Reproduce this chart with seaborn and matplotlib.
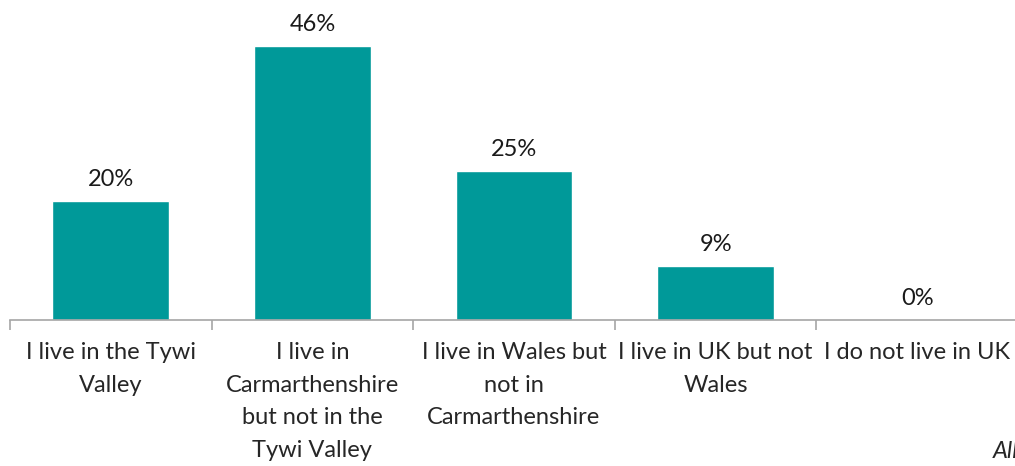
import matplotlib
matplotlib.use("Agg")
import matplotlib.pyplot as plt
import seaborn as sns
import pandas as pd
import numpy as np

categories = [
    "I live in the Tywi\nValley",
    "I live in\nCarmarthenshire\nbut not in the\nTywi Valley",
    "I live in Wales but\nnot in\nCarmarthenshire",
    "I live in UK but not\nWales",
    "I do not live in UK",
]
shares = [20, 46, 25, 9, 0]

sns.set_theme(style="white")
plt.rcParams["font.family"] = ["Lato", "DejaVu Sans"]

df = pd.DataFrame({"category": categories, "share": shares})

fig = plt.figure(figsize=(10.15, 4.66), dpi=100)
ax = fig.add_axes([10 / 1015, 1 - 320 / 466, 1008 / 1015, 320 / 466])

sns.barplot(data=df, x="category", y="share", color="#009999",
            saturation=1, width=0.58, ax=ax)

ax.set_xlim(-0.5, 4.5)
ax.set_ylim(0, 53.7)
ax.set_xlabel("")
ax.set_ylabel("")
ax.set_yticks([])

for i, v in enumerate(shares):
    ax.annotate(f"{v}%", (i, v), xytext=(0, 8), textcoords="offset points",
                ha="center", va="bottom", fontsize=17, color="#1a1a1a")

for side in ("top", "right", "left"):
    ax.spines[side].set_visible(False)
ax.spines["bottom"].set_color("#a6a6a6")
ax.spines["bottom"].set_linewidth(1.2)

ax.set_xticks(range(len(categories)))
ax.set_xticklabels(categories, fontsize=17, color="#262626", linespacing=1.68)
ax.tick_params(axis="x", which="major", length=0, pad=16)
ax.set_xticks(np.arange(-0.5, len(categories)), minor=True)
ax.tick_params(axis="x", which="minor", length=7, width=1.2, color="#a6a6a6",
               direction="out", bottom=True)

fig.text(993 / 1015, 1 - 452 / 466, "All respondents", fontsize=17,
         style="italic", color="#262626", ha="left", va="center")

fig.savefig("out.png", dpi=100)
